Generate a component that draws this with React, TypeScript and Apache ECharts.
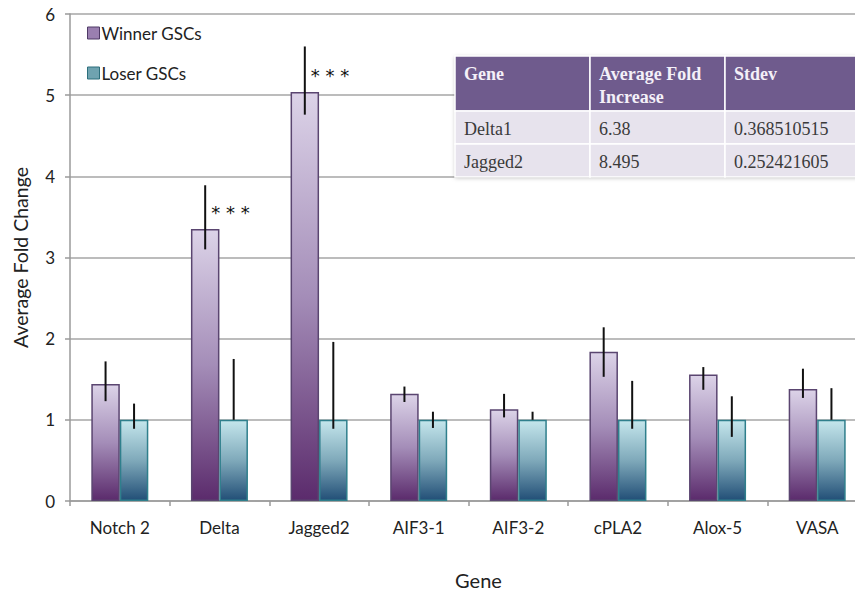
import React, { useEffect, useRef } from "react";
import * as echarts from "echarts";

const genes = ["Notch 2", "Delta", "Jagged2", "AIF3-1", "AIF3-2", "cPLA2", "Alox-5", "VASA"];
const winnerValues = [1.44, 3.35, 5.04, 1.32, 1.13, 1.84, 1.56, 1.38];
const winnerLow = [1.23, 3.1, 4.76, 1.22, 1.03, 1.53, 1.37, 1.27];
const winnerHigh = [1.72, 3.89, 5.6, 1.41, 1.32, 2.14, 1.65, 1.63];
const loserValues = [1, 1, 1, 1, 1, 1, 1, 1];
const loserLow = [0.89, 1.0, 0.89, 0.9, 1.0, 0.89, 0.79, 1.0];
const loserHigh = [1.2, 1.75, 1.96, 1.1, 1.1, 1.48, 1.29, 1.39];
const significant = ["Delta", "Jagged2"];
const yTicks = [0, 1, 2, 3, 4, 5, 6];

const tableHeader = ["Gene", "Average Fold\nIncrease", "Stdev"];
const tableRows = [
  ["Delta1", "6.38", "0.368510515"],
  ["Jagged2", "8.495", "0.252421605"],
];

const BAR_W = 28.5;
const SANS = "Lato, 'Open Sans', sans-serif";
const SERIF = "'Liberation Serif', 'DejaVu Serif', serif";

const winnerFill = new echarts.graphic.LinearGradient(0, 0, 0, 1, [
  { offset: 0, color: "#dcd3e8" },
  { offset: 0.5, color: "#a48db8" },
  { offset: 1, color: "#5b2b6c" },
]);
const loserFill = new echarts.graphic.LinearGradient(0, 0, 0, 1, [
  { offset: 0, color: "#c4e6ec" },
  { offset: 0.5, color: "#7fa9ba" },
  { offset: 1, color: "#224f77" },
]);

// Summary table drawn in the upper right corner of the plot.
function buildTable() {
  const x0 = 455;
  const y0 = 56;
  const colW = [135, 135, 140];
  const headH = 55;
  const rowH = 33;
  const els: any[] = [
    {
      type: "rect",
      shape: { x: x0, y: y0, width: 410, height: headH + 2 * rowH },
      style: { fill: "#ffffff", shadowBlur: 4, shadowColor: "rgba(0,0,0,0.25)", shadowOffsetY: 1 },
      z: 10,
    },
  ];
  let x = x0;
  tableHeader.forEach((h, c) => {
    els.push({
      type: "rect",
      shape: { x, y: y0, width: colW[c], height: headH },
      style: { fill: "#6f5b8d", stroke: "#ffffff", lineWidth: 1.5 },
      z: 11,
    });
    els.push({
      type: "text",
      x: x + 9,
      y: y0 + 6,
      style: {
        text: h,
        font: `bold 18px ${SERIF}`,
        fill: "#f4f0f8",
        lineHeight: 23,
        verticalAlign: "top",
      },
      z: 12,
    });
    x += colW[c];
  });
  tableRows.forEach((row, r) => {
    let cx = x0;
    const ry = y0 + headH + r * rowH;
    row.forEach((cell, c) => {
      els.push({
        type: "rect",
        shape: { x: cx, y: ry, width: colW[c], height: rowH },
        style: { fill: "#e7e3ed", stroke: "#ffffff", lineWidth: 1.5 },
        z: 11,
      });
      els.push({
        type: "text",
        x: cx + 9,
        y: ry + rowH / 2 + 1,
        style: {
          text: cell,
          font: `18px ${SERIF}`,
          fill: "#3a3a3a",
          verticalAlign: "middle",
        },
        z: 12,
      });
      cx += colW[c];
    });
  });
  return els;
}

export default function App() {
  const ref = useRef<HTMLDivElement>(null);

  useEffect(() => {
    if (!ref.current) return;
    const chart = echarts.init(ref.current, null, { renderer: "svg" });

    const errData: number[][] = [];
    genes.forEach((_, i) => {
      errData.push([i, winnerLow[i], winnerHigh[i], -1]);
      errData.push([i, loserLow[i], loserHigh[i], 1]);
    });
    const sigData = genes
      .map((g, i) => (significant.includes(g) ? [i, winnerValues[i]] : null))
      .filter(Boolean) as number[][];

    chart.setOption({
      animation: false,
      backgroundColor: "#ffffff",
      grid: {
        left: 70,
        top: 14,
        width: 797,
        height: 487,
        containLabel: false,
        outerBoundsMode: "none",
      },
      legend: {
        orient: "vertical",
        left: 82,
        top: 18,
        itemWidth: 12,
        itemHeight: 12,
        itemGap: 20,
        icon: "rect",
        selectedMode: false,
        textStyle: { fontFamily: SANS, fontSize: 17, color: "#222", lineHeight: 20, padding: [0, 0, 0, -3] },
        data: [
          { name: "Winner GSCs", itemStyle: { color: "#9a7fb0", borderColor: "#4f3a66", borderWidth: 1 } },
          { name: "Loser GSCs", itemStyle: { color: "#6fa3b0", borderColor: "#2c6f7c", borderWidth: 1 } },
        ],
      },
      xAxis: {
        type: "category",
        data: genes,
        name: "Gene",
        nameLocation: "middle",
        nameGap: 69,
        nameTextStyle: { fontFamily: SANS, fontSize: 20, color: "#222", padding: [0, 0, 0, 20] },
        axisLine: { lineStyle: { color: "#9a9a9a", width: 1.5 } },
        axisTick: { show: true, length: 5, lineStyle: { color: "#9a9a9a", width: 1.5 } },
        axisLabel: { fontFamily: SANS, fontSize: 17, color: "#222", margin: 18 },
      },
      yAxis: {
        type: "value",
        min: yTicks[0],
        max: yTicks[yTicks.length - 1],
        interval: 1,
        name: "Average Fold Change",
        nameLocation: "middle",
        nameGap: 40,
        nameTextStyle: { fontFamily: SANS, fontSize: 19.5, color: "#222" },
        axisLine: { show: true, lineStyle: { color: "#9a9a9a", width: 1.5 } },
        axisTick: { show: true, length: 5, lineStyle: { color: "#9a9a9a", width: 1.5 } },
        axisLabel: { fontFamily: SANS, fontSize: 17, color: "#222", margin: 15 },
        splitLine: { show: true, lineStyle: { color: "#a6a6a6", width: 1.5 } },
      },
      series: [
        {
          name: "Winner GSCs",
          type: "bar",
          data: winnerValues,
          barWidth: BAR_W,
          barGap: "0%",
          itemStyle: { color: winnerFill, borderColor: "#5a4570", borderWidth: 1.5 },
          z: 2,
        },
        {
          name: "Loser GSCs",
          type: "bar",
          data: loserValues,
          barWidth: BAR_W,
          barGap: "0%",
          itemStyle: { color: loserFill, borderColor: "#2f7f8c", borderWidth: 1.5 },
          z: 2,
        },
        {
          type: "custom",
          name: "error",
          data: errData,
          z: 5,
          silent: true,
          renderItem: (_p: any, api: any) => {
            const idx = api.value(0);
            const off = api.value(3) * (BAR_W / 2);
            const a = api.coord([idx, api.value(1)]);
            const b = api.coord([idx, api.value(2)]);
            return {
              type: "line",
              shape: { x1: a[0] + off, y1: a[1], x2: a[0] + off, y2: b[1] },
              style: { stroke: "#111111", lineWidth: 2 },
            };
          },
        },
        {
          type: "custom",
          name: "sig",
          data: sigData,
          z: 6,
          silent: true,
          renderItem: (_p: any, api: any) => {
            const idx = api.value(0);
            const p = api.coord([idx, api.value(1) + 0.2]);
            return {
              type: "text",
              x: p[0] - BAR_W / 2 + 6,
              y: p[1],
              style: {
                text: "* * *",
                font: `18px 'DejaVu Sans', sans-serif`,
                fill: "#111111",
                verticalAlign: "middle",
              },
            };
          },
        },
      ],
      graphic: buildTable(),
    });

    return () => chart.dispose();
  }, []);

  return (
    <div style={{ position: "fixed", left: 0, top: 0, width: 855, height: 592, overflow: "hidden" }}>
      <div ref={ref} style={{ width: 870, height: 592 }} />
    </div>
  );
}
